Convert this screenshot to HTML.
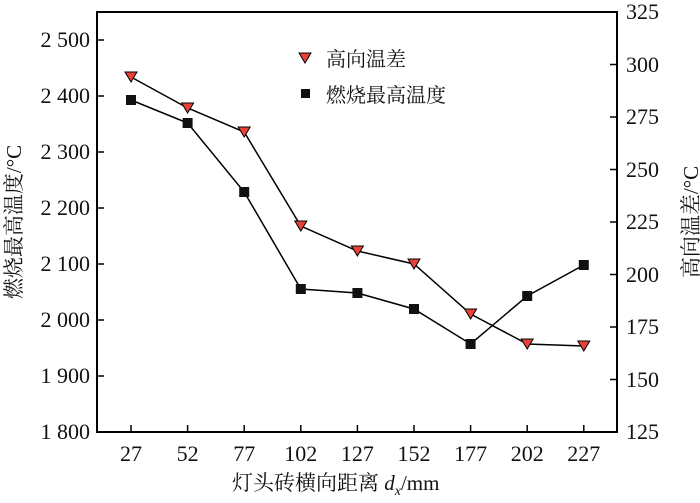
<!DOCTYPE html>
<html><head><meta charset="utf-8"><style>body{margin:0;background:#fff}</style></head><body>
<svg width="700" height="498" xmlns="http://www.w3.org/2000/svg" font-family="Liberation Serif, Noto Serif CJK SC, serif" font-size="21" fill="#111">
<rect x="97" y="12" width="520" height="420" fill="none" stroke="#000" stroke-width="2"/>
<g stroke="#000" stroke-width="1.5">
<line x1="97" y1="40" x2="104" y2="40"/><line x1="97" y1="96" x2="104" y2="96"/><line x1="97" y1="152" x2="104" y2="152"/><line x1="97" y1="208" x2="104" y2="208"/><line x1="97" y1="264" x2="104" y2="264"/><line x1="97" y1="320" x2="104" y2="320"/><line x1="97" y1="376" x2="104" y2="376"/>
<line x1="610" y1="64.5" x2="617" y2="64.5"/><line x1="610" y1="117" x2="617" y2="117"/><line x1="610" y1="169.5" x2="617" y2="169.5"/><line x1="610" y1="222" x2="617" y2="222"/><line x1="610" y1="274.5" x2="617" y2="274.5"/><line x1="610" y1="327" x2="617" y2="327"/><line x1="610" y1="379.5" x2="617" y2="379.5"/>
<line x1="131" y1="432" x2="131" y2="425"/><line x1="187.6" y1="432" x2="187.6" y2="425"/><line x1="244.2" y1="432" x2="244.2" y2="425"/><line x1="300.8" y1="432" x2="300.8" y2="425"/><line x1="357.4" y1="432" x2="357.4" y2="425"/><line x1="414" y1="432" x2="414" y2="425"/><line x1="470.6" y1="432" x2="470.6" y2="425"/><line x1="527.2" y1="432" x2="527.2" y2="425"/><line x1="583.8" y1="432" x2="583.8" y2="425"/>
</g>
<g text-anchor="end" font-size="22">
<text x="90" y="47">2 500</text><text x="90" y="103">2 400</text><text x="90" y="159">2 300</text><text x="90" y="215">2 200</text><text x="90" y="271">2 100</text><text x="90" y="327">2 000</text><text x="90" y="383">1 900</text><text x="90" y="439">1 800</text>
</g>
<g text-anchor="start" font-size="22">
<text x="626" y="19">325</text><text x="626" y="72">300</text><text x="626" y="124">275</text><text x="626" y="177">250</text><text x="626" y="229">225</text><text x="626" y="282">200</text><text x="626" y="334">175</text><text x="626" y="387">150</text><text x="626" y="439">125</text>
</g>
<g text-anchor="middle" font-size="22">
<text x="131" y="461">27</text><text x="187.6" y="461">52</text><text x="244.2" y="461">77</text><text x="300.8" y="461">102</text><text x="357.4" y="461">127</text><text x="414" y="461">152</text><text x="470.6" y="461">177</text><text x="527.2" y="461">202</text><text x="583.8" y="461">227</text>
</g>
<text x="232" y="490">灯头砖横向距离 <tspan font-style="italic">d</tspan><tspan font-size="14" font-style="italic" dy="5">x</tspan><tspan dy="-5">/mm</tspan></text>
<text transform="translate(21,222) rotate(-90)" text-anchor="middle">燃烧最高温度/°C</text>
<text transform="translate(698,222) rotate(-90)" text-anchor="middle">高向温差/°C</text>
<polyline fill="none" stroke="#000" stroke-width="1.5" points="131,77 187.6,108 244.2,132 300.8,226 357.4,251 414,264 470.6,314 527.2,344 583.8,346"/>
<polyline fill="none" stroke="#000" stroke-width="1.5" points="131,100 187.6,123 244.2,192 300.8,289 357.4,293 414,309 470.6,344 527.2,296 583.8,265"/>
<g fill="#e8413a" stroke="#000" stroke-width="1">
<path d="M125,72h12l-6,10z"/><path d="M181.6,103h12l-6,10z"/><path d="M238.2,127h12l-6,10z"/><path d="M294.8,221h12l-6,10z"/><path d="M351.4,246h12l-6,10z"/><path d="M408,259h12l-6,10z"/><path d="M464.6,309h12l-6,10z"/><path d="M521.2,339h12l-6,10z"/><path d="M577.8,341h12l-6,10z"/>
<path d="M299,53h12l-6,10z"/>
</g>
<g fill="#111">
<rect x="126" y="95" width="10" height="10"/><rect x="182.6" y="118" width="10" height="10"/><rect x="239.2" y="187" width="10" height="10"/><rect x="295.8" y="284" width="10" height="10"/><rect x="352.4" y="288" width="10" height="10"/><rect x="409" y="304" width="10" height="10"/><rect x="465.6" y="339" width="10" height="10"/><rect x="522.2" y="291" width="10" height="10"/><rect x="578.8" y="260" width="10" height="10"/>
<rect x="301" y="89" width="9" height="9"/>
</g>
<text x="326" y="66" font-size="20">高向温差</text>
<text x="326" y="102" font-size="20">燃烧最高温度</text>
</svg>
</body></html>
